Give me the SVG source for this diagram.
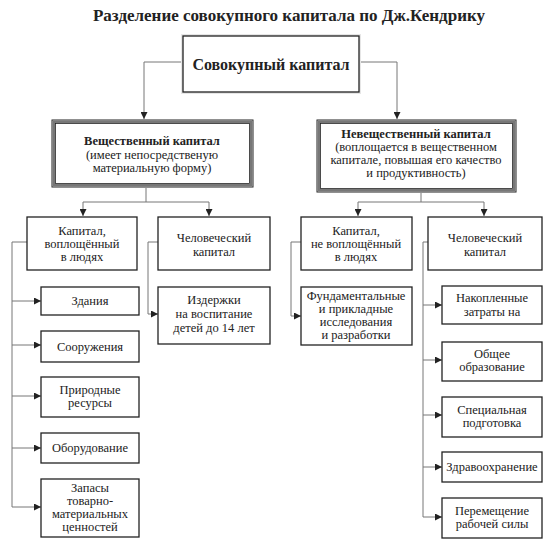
<svg xmlns="http://www.w3.org/2000/svg" width="550" height="547" viewBox="0 0 550 547">
<defs>
<marker id="ah" viewBox="0 0 10 10" refX="10" refY="5" markerWidth="7" markerHeight="7" markerUnits="userSpaceOnUse" orient="auto">
<path d="M0,0 L10,5 L0,10 z" fill="#222"/>
</marker>
</defs>
<style>
text{fill:#222;text-anchor:middle;font-family:Liberation Serif, Times New Roman, Tinos, Noto Serif, DejaVu Serif, serif}
.t{font-size:12.5px}
.b{font-weight:bold}
.box{fill:#fff;stroke:#222;stroke-width:1.3}
.c{fill:none;stroke:#777;stroke-width:1}
.a{fill:none;stroke:#777;stroke-width:1;marker-end:url(#ah)}
</style>
<rect width="550" height="547" fill="#fff"/>
<text x="289" y="21" class="b" style="font-size:17px">Разделение совокупного капитала по Дж.Кендрику</text>

<g id="connectors">
<path class="a" d="M183,62 H144 V119"/>
<path class="a" d="M359,62 H397 V119"/>
<path class="c" d="M146,188 V202 M83,202 H209"/>
<path class="a" d="M83,202 V216"/>
<path class="a" d="M209,202 V216"/>
<path class="c" d="M421,193 V202 M358,202 H484"/>
<path class="a" d="M358,202 V216"/>
<path class="a" d="M484,202 V216"/>
<path class="c" d="M27,242 H12 V507"/>
<path class="a" d="M12,301 H41"/>
<path class="a" d="M12,345 H41"/>
<path class="a" d="M12,396 H41"/>
<path class="a" d="M12,448 H41"/>
<path class="a" d="M12,507 H41"/>
<path class="a" d="M158,242 H148 V314 H158"/>
<path class="a" d="M301,242 H291 V316 H301"/>
<path class="c" d="M428,242 H423 V517"/>
<path class="a" d="M423,305 H442"/>
<path class="a" d="M423,360 H442"/>
<path class="a" d="M423,415 H442"/>
<path class="a" d="M423,467 H442"/>
<path class="a" d="M423,517 H442"/>
</g>

<g id="n-total">
<rect x="181" y="34" width="180" height="60" fill="#e6e6e6"/>
<rect x="183" y="36" width="176" height="56" class="box"/>
<text x="271" y="70" class="b" style="font-size:16px">Совокупный капитал</text>
</g>

<g id="n-material">
<rect x="52" y="120" width="201" height="67" fill="#fff" stroke="#222" stroke-width="1"/>
<rect x="53.8" y="121.8" width="197.4" height="63.4" fill="none" stroke="#777" stroke-width="2.6"/>
<rect x="55.5" y="123.5" width="194" height="60" fill="none" stroke="#222" stroke-width="0.8"/>
<text x="152" y="145" class="t b">Вещественный капитал</text>
<text x="152" y="159" class="t">(имеет непосредственую</text>
<text x="152" y="172" class="t">материальную форму)</text>
</g>

<g id="n-nonmaterial">
<rect x="317" y="120" width="199" height="72" fill="#fff" stroke="#222" stroke-width="1"/>
<rect x="318.8" y="121.8" width="195.4" height="68.4" fill="none" stroke="#777" stroke-width="2.6"/>
<rect x="320.5" y="123.5" width="192" height="65" fill="none" stroke="#222" stroke-width="0.8"/>
<text x="416" y="138" class="t b">Невещественный капитал</text>
<text x="416" y="151" class="t">(воплощается в вещественном</text>
<text x="416" y="164" class="t">капитале, повышая его качество</text>
<text x="416" y="177" class="t">и продуктивность)</text>
</g>

<g id="n-embodied">
<rect x="27" y="217" width="110" height="53" class="box"/>
<text x="82" y="235" class="t">Капитал,</text>
<text x="82" y="248" class="t">воплощённый</text>
<text x="82" y="261" class="t">в людях</text>
</g>

<g id="n-human-left">
<rect x="158" y="217" width="112" height="53" class="box"/>
<text x="214" y="242" class="t">Человеческий</text>
<text x="214" y="256" class="t">капитал</text>
</g>

<g id="n-buildings">
<rect x="41" y="287" width="98" height="28" class="box"/>
<text x="90" y="305" class="t">Здания</text>
</g>

<g id="n-structures">
<rect x="41" y="331" width="98" height="31" class="box"/>
<text x="90" y="351" class="t">Сооружения</text>
</g>

<g id="n-resources">
<rect x="41" y="377" width="98" height="40" class="box"/>
<text x="90" y="394" class="t">Природные</text>
<text x="90" y="407" class="t">ресурсы</text>
</g>

<g id="n-equipment">
<rect x="41" y="433" width="98" height="30" class="box"/>
<text x="90" y="452" class="t">Оборудование</text>
</g>

<g id="n-inventory">
<rect x="41" y="479" width="98" height="58" class="box"/>
<text x="90" y="492" class="t">Запасы</text>
<text x="90" y="505" class="t">товарно-</text>
<text x="90" y="518" class="t">материальных</text>
<text x="90" y="531" class="t">ценностей</text>
</g>

<g id="n-childcost">
<rect x="158" y="287" width="112" height="57" class="box"/>
<text x="214" y="304" class="t">Издержки</text>
<text x="214" y="318" class="t">на воспитание</text>
<text x="214" y="332" class="t">детей до 14 лет</text>
</g>

<g id="n-nonembodied">
<rect x="301" y="217" width="111" height="53" class="box"/>
<text x="356" y="235" class="t">Капитал,</text>
<text x="356" y="248" class="t">не воплощённый</text>
<text x="356" y="261" class="t">в людях</text>
</g>

<g id="n-human-right">
<rect x="428" y="217" width="114" height="53" class="box"/>
<text x="485" y="242" class="t">Человеческий</text>
<text x="485" y="256" class="t">капитал</text>
</g>

<g id="n-research">
<rect x="301" y="287" width="111" height="58" class="box"/>
<text x="356" y="300" class="t">Фундаментальные</text>
<text x="356" y="313" class="t">и прикладные</text>
<text x="356" y="326" class="t">исследования</text>
<text x="356" y="339" class="t">и разработки</text>
</g>

<g id="n-accumulated">
<rect x="442" y="286" width="100" height="38" class="box"/>
<text x="492" y="302" class="t">Накопленные</text>
<text x="492" y="316" class="t">затраты на</text>
</g>

<g id="n-education">
<rect x="442" y="342" width="100" height="39" class="box"/>
<text x="492" y="358" class="t">Общее</text>
<text x="492" y="371" class="t">образование</text>
</g>

<g id="n-training">
<rect x="442" y="397" width="100" height="40" class="box"/>
<text x="492" y="414" class="t">Специальная</text>
<text x="492" y="427" class="t">подготовка</text>
</g>

<g id="n-health">
<rect x="442" y="452" width="100" height="30" class="box"/>
<text x="492" y="471" class="t">Здравоохранение</text>
</g>

<g id="n-migration">
<rect x="442" y="498" width="100" height="40" class="box"/>
<text x="492" y="515" class="t">Перемещение</text>
<text x="492" y="528" class="t">рабочей силы</text>
</g>
</svg>
